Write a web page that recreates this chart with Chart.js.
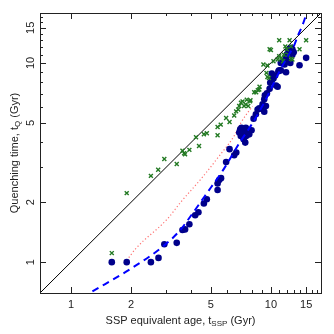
<!DOCTYPE html>
<html>
<head>
<meta charset="utf-8">
<script src="https://cdn.jsdelivr.net/npm/chart.js@4.4.1/dist/chart.umd.min.js"></script>
<style>
  html, body { margin: 0; padding: 0; background: #fff; }
  canvas { display: block; }
</style>
</head>
<body>
<canvas id="myChart" width="334" height="334"></canvas>
<script>
// quenching time vs SSP equivalent age (both Gyr, log-log)

// blue circles
const circleAge = [1.6, 1.9, 2.51, 2.74, 2.93, 3.38, 3.61, 3.72, 3.91, 4.18, 4.34, 4.62, 4.78, 5.41, 5.41, 5.51, 5.63, 5.97,
  6.21, 6.55, 6.71, 6.94, 7.02, 7.07, 7.21, 7.30, 7.44, 7.52, 7.64, 7.79, 8.00, 7.49, 7.13,
  8.19, 8.41, 8.58, 8.74, 8.98, 9.26, 9.44, 9.08, 9.26, 9.33, 9.55, 9.85, 9.92, 10.1, 10.3, 10.6, 10.8,
  10.1, 10.5, 10.9, 11.0, 11.2, 11.9, 11.2, 11.6, 11.7, 11.9, 12.0, 12.2, 12.4, 12.6, 12.8, 12.1, 12.5, 12.8, 13.0, 13.9, 15.0];
const circleTq = [1.0, 1.0, 1.0, 1.05, 1.23, 1.25, 1.45, 1.46, 1.55, 1.72, 1.78, 1.97, 2.07, 2.30, 2.48, 2.58, 2.64, 3.18,
  3.69, 3.44, 3.55, 4.47, 4.64, 4.30, 4.47, 4.14, 3.98, 4.30, 4.55, 4.38, 4.59, 4.73, 4.73,
  5.25, 5.52, 5.84, 5.91, 5.89, 5.69, 6.07, 6.19, 6.56, 6.87, 7.03, 7.41, 7.94, 8.19, 8.35, 7.70, 7.59,
  8.84, 8.64, 9.08, 9.19, 9.17, 8.98, 10.0, 10.2, 9.81, 10.6, 11.0, 11.6, 11.7, 11.9, 11.7, 10.2, 10.0, 11.0, 11.3, 9.73, 10.6];

// green crosses
const crossAge = [1.6, 1.9, 2.51, 2.73, 2.93, 3.38, 3.61, 3.68, 3.72, 3.91, 4.22, 4.37, 4.62, 4.78, 5.41, 5.41, 5.61,
  5.97, 6.21, 6.55, 6.70, 6.86, 6.94, 7.08, 7.21, 7.34, 7.48, 7.57, 7.70, 7.86, 7.90, 8.25, 8.44, 8.60, 8.74, 8.77,
  9.17, 9.60, 9.50, 9.60, 9.77, 10.3, 10.8, 11.0, 9.85, 10.0, 11.0, 11.3, 11.5, 11.6, 11.8, 12.0, 12.2, 12.4, 12.6,
  12.6, 12.8, 13.9, 15.0];
const crossTq = [1.11, 2.22, 2.71, 2.91, 3.29, 3.11, 3.62, 3.52, 3.48, 3.66, 4.23, 3.83, 4.38, 4.43, 4.33, 4.77, 4.90,
  5.29, 5.05, 5.45, 5.71, 5.84, 6.07, 6.31, 6.41, 6.07, 6.19, 6.53, 6.07, 6.41, 6.50, 7.13, 7.13, 7.30, 7.36, 7.59,
  9.81, 9.70, 8.91, 8.50, 8.40, 10.2, 10.4, 10.8, 11.7, 11.6, 13.0, 10.6, 10.2, 11.0, 12.1, 11.7, 11.0, 13.0, 12.1,
  10.5, 10.4, 11.7, 13.0];

// blue dashed model curve
const curveAge = [1.28, 1.99, 2.92, 3.50, 3.98, 5.01, 5.73, 7.0, 8.0, 9.0, 10.0, 11.0, 12.0, 13.0, 13.6, 14.4, 15.0, 15.4];
const curveTq = [0.713, 0.926, 1.21, 1.44, 1.71, 2.37, 2.87, 4.0, 4.9, 6.0, 7.4, 9.0, 10.6, 12.1, 13.6, 15.5, 17.4, 18.6];

// pink dotted curve
const dotAge = [1.90, 2.11, 3.04, 3.54, 4.46, 5.5, 6.55, 7.08, 7.64, 8.1];
const dotTq = [1.02, 1.17, 1.65, 2.0, 2.61, 3.4, 4.30, 5.01, 5.62, 6.05];

// one-to-one line
const oneToOne = [0.7, 18];

const axisMin = 0.707, axisMax = 17.8;
const majorTicks = [1, 2, 5, 10, 15];
const minorTicks = [3, 4, 6, 7, 8, 9, 11, 12, 13, 14, 16, 17];

const pts = (xs, ys) => xs.map((x, i) => ({x: x, y: ys[i]}));

const FONT = '11px "Liberation Sans", Arial, sans-serif';
const SUBFONT = '8px "Liberation Sans", Arial, sans-serif';

// draws "text" pieces where sub pieces are smaller and lowered, centred on (cx, cy)
function drawSubText(ctx, parts, cx, cy) {
  let total = 0;
  parts.forEach(p => { ctx.font = p[1] ? SUBFONT : FONT; total += ctx.measureText(p[0]).width; });
  let x = cx - total / 2;
  ctx.textAlign = 'left';
  ctx.textBaseline = 'middle';
  parts.forEach(p => {
    ctx.font = p[1] ? SUBFONT : FONT;
    ctx.fillText(p[0], x, p[1] ? cy + 3 : cy);
    x += ctx.measureText(p[0]).width;
  });
}

const frame = {
  id: 'frame',
  afterDraw(chart) {
    const ctx = chart.ctx;
    const a = chart.chartArea;
    const xs = chart.scales.x, ys = chart.scales.y;
    ctx.save();
    ctx.strokeStyle = '#222';
    ctx.lineWidth = 1;
    ctx.strokeRect(Math.round(a.left) + 0.5, Math.round(a.top) + 0.5,
      Math.round(a.right - a.left), Math.round(a.bottom - a.top));

    const tick = (v, len) => {
      const px = Math.round(xs.getPixelForValue(v)) + 0.5;
      const py = Math.round(ys.getPixelForValue(v)) + 0.5;
      ctx.beginPath();
      ctx.moveTo(px, a.bottom); ctx.lineTo(px, a.bottom - len);
      ctx.moveTo(px, a.top); ctx.lineTo(px, a.top + len);
      ctx.moveTo(a.left, py); ctx.lineTo(a.left + len, py);
      ctx.moveTo(a.right, py); ctx.lineTo(a.right - len, py);
      ctx.stroke();
    };
    majorTicks.forEach(v => tick(v, 6));
    minorTicks.forEach(v => tick(v, 3));

    ctx.fillStyle = '#222';
    ctx.font = FONT;
    ctx.textAlign = 'center';
    ctx.textBaseline = 'middle';
    majorTicks.forEach(v => {
      ctx.fillText(String(v), xs.getPixelForValue(v), 305);
      ctx.save();
      ctx.translate(31, ys.getPixelForValue(v));
      ctx.rotate(-Math.PI / 2);
      ctx.fillText(String(v), 0, 0);
      ctx.restore();
    });

    drawSubText(ctx, [['SSP equivalent age, t', false], ['SSP', true], [' (Gyr)', false]],
      (a.left + a.right) / 2, 321);
    ctx.save();
    ctx.translate(15, (a.top + a.bottom) / 2);
    ctx.rotate(-Math.PI / 2);
    drawSubText(ctx, [['Quenching time, t', false], ['Q', true], [' (Gyr)', false]], 0, 0);
    ctx.restore();
    ctx.restore();
  }
};

new Chart(document.getElementById('myChart').getContext('2d'), {
  type: 'scatter',
  data: {
    datasets: [
      {
        label: 'model',
        data: pts(curveAge, curveTq),
        showLine: true,
        borderColor: '#0000ff',
        borderWidth: 2,
        borderDash: [7, 5],
        pointRadius: 0,
        cubicInterpolationMode: 'monotone',
        order: 1
      },
      {
        label: 'crosses',
        data: pts(crossAge, crossTq),
        pointStyle: 'crossRot',
        pointRadius: 2.8,
        borderColor: '#237a23',
        borderWidth: 1.4,
        order: 2
      },
      {
        label: 'circles',
        data: pts(circleAge, circleTq),
        pointStyle: 'circle',
        pointRadius: 3.3,
        backgroundColor: '#00008b',
        borderColor: '#00008b',
        borderWidth: 0,
        order: 3
      },
      {
        label: 'dotted',
        data: pts(dotAge, dotTq),
        showLine: true,
        borderColor: '#ff7070',
        borderWidth: 1.2,
        borderDash: [1.2, 2.3],
        pointRadius: 0,
        cubicInterpolationMode: 'monotone',
        order: 4
      },
      {
        label: 'one-to-one',
        data: pts(oneToOne, oneToOne),
        showLine: true,
        borderColor: '#000',
        borderWidth: 1,
        pointRadius: 0,
        order: 5
      }
    ]
  },
  options: {
    responsive: false,
    animation: false,
    devicePixelRatio: 1,
    layout: { padding: { left: 40, right: 13, top: 13, bottom: 41 } },
    scales: {
      x: { type: 'logarithmic', min: axisMin, max: axisMax, display: false },
      y: { type: 'logarithmic', min: axisMin, max: axisMax, display: false }
    },
    plugins: {
      legend: { display: false },
      tooltip: { enabled: false }
    }
  },
  plugins: [frame]
});
</script>
</body>
</html>
